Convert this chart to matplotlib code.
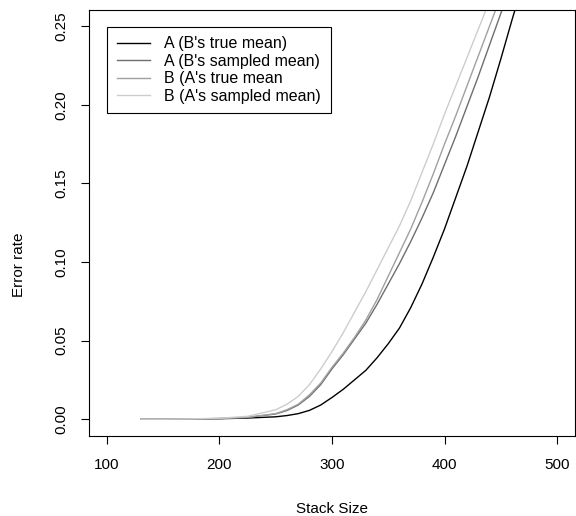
import matplotlib
matplotlib.use("Agg")
import matplotlib.pyplot as plt

plt.rcParams["font.family"] = ["Liberation Sans", "DejaVu Sans"]

# Data

stack = [130, 150, 175, 200, 225, 250, 260, 270, 280, 290, 300, 310, 320, 330,
         340, 350, 360, 370, 380, 390, 400, 410, 420, 430, 440, 450, 460, 470]

a_true = [0, 0, 0.0001, 0.0003, 0.0007, 0.0015, 0.0023, 0.0035, 0.0056, 0.009,
          0.0138, 0.019, 0.025, 0.031, 0.039, 0.048, 0.058, 0.071, 0.086, 0.103,
          0.121, 0.141, 0.161, 0.183, 0.205, 0.229, 0.254, 0.278]

a_sampled = [0, 0, 0.0001, 0.0004, 0.0011, 0.0033, 0.0055, 0.009, 0.0145, 0.022,
             0.032, 0.041, 0.051, 0.061, 0.073, 0.086, 0.099, 0.113, 0.128, 0.144,
             0.162, 0.180, 0.199, 0.218, 0.238, 0.258, 0.278, 0.298]

b_true = [0, 0, 0.0001, 0.0004, 0.0012, 0.0035, 0.006, 0.0095, 0.0155, 0.023,
          0.033, 0.042, 0.052, 0.063, 0.076, 0.091, 0.106, 0.121, 0.138, 0.156,
          0.175, 0.193, 0.212, 0.231, 0.250, 0.269, 0.288, 0.307]

b_sampled = [0, 0, 0.0002, 0.0006, 0.0018, 0.006, 0.0095, 0.0145, 0.022, 0.032,
             0.043, 0.055, 0.068, 0.081, 0.095, 0.109, 0.123, 0.139, 0.157, 0.175,
             0.194, 0.212, 0.230, 0.248, 0.266, 0.284, 0.302, 0.320]

labels = ["A (B's true mean)", "A (B's sampled mean)",
          "B (A's true mean", "B (A's sampled mean)"]
colors = ["black", "#6e6e6e", "#a0a0a0", "#cdcdcd"]

# Figure

fig = plt.figure(figsize=(5.76, 5.16), dpi=100)
ax = fig.add_axes([0.1545, 0.156, 0.8438, 0.825])

for ys, lab, col in zip([a_true, a_sampled, b_true, b_sampled], labels, colors):
    ax.plot(stack, ys, color=col, lw=1.0, label=lab, solid_joinstyle="round")

ax.set_xlim(84, 516)
ax.set_ylim(-0.0104, 0.2604)
ax.set_xticks([100, 200, 300, 400, 500])
ax.set_yticks([0.0, 0.05, 0.10, 0.15, 0.20, 0.25])
ax.set_yticklabels(["0.00", "0.05", "0.10", "0.15", "0.20", "0.25"],
                   rotation=90, va="center")
ax.tick_params(labelsize=11, length=6, width=0.8)
ax.tick_params(axis="x", pad=10)
ax.tick_params(axis="y", pad=9)
for s in ax.spines.values():
    s.set_linewidth(0.8)

ax.set_xlabel("Stack Size", fontsize=11, labelpad=22)
ax.set_ylabel("Error rate", fontsize=11)
ax.yaxis.set_label_coords(-0.13, 0.40)

leg = ax.legend(loc="upper left", bbox_to_anchor=(0.037, 0.96), fontsize=11.5,
                fancybox=False, framealpha=1, edgecolor="black",
                handlelength=2.1, labelspacing=0.15, borderpad=0.6,
                handletextpad=0.9, borderaxespad=0)
leg.get_frame().set_linewidth(0.8)

fig.savefig("out.png", dpi=100)
